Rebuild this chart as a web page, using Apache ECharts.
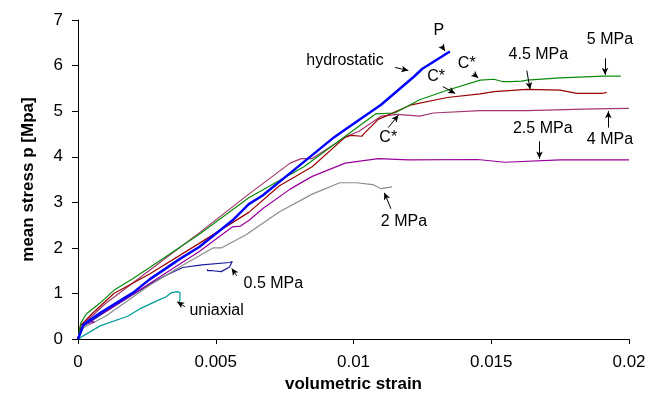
<!DOCTYPE html>
<html>
<head>
<meta charset="utf-8">
<script src="https://cdn.jsdelivr.net/npm/echarts@6/dist/echarts.min.js"></script>
<style>
  html, body { margin: 0; padding: 0; background: #fff; }
  #EChart { width: 660px; height: 398px; }
</style>
</head>
<body>
<div id="EChart"></div>
<script>
// tick labels
const xTicks = ['0', '0.005', '0.01', '0.015', '0.02'];
const yTicks = ['0', '1', '2', '3', '4', '5', '6', '7'];

// curves: [volumetric strain, mean stress]
const uniaxial = [[0,0],[0.0008,0.29],[0.0018,0.5],[0.0023,0.68],[0.0029,0.85],[0.0032,0.93],[0.0034,1.02],[0.0036,1.04],[0.0037,1.02],[0.0037,0.86],[0.00365,0.79]];
const mpa05 = [[0,0],[0.0002,0.28],[0.001,0.6],[0.002,0.98],[0.0026,1.2],[0.0032,1.4],[0.0038,1.57],[0.0045,1.63],[0.0055,1.68],[0.0056,1.7],[0.0055,1.58],[0.0052,1.48],[0.0049,1.5],[0.0047,1.5],[0.0047,1.53]];
const mpa2 = [[0,0],[0.0002,0.25],[0.001,0.5],[0.0026,1.18],[0.0038,1.62],[0.0049,2.0],[0.0052,2.0],[0.0061,2.29],[0.0073,2.79],[0.0085,3.18],[0.0095,3.43],[0.0101,3.43],[0.0107,3.39],[0.011,3.3],[0.0114,3.34]];
const mpa25 = [[0,0],[0.0001,0.32],[0.0006,0.37],[0.0004,0.42],[0.001,0.6],[0.0026,1.22],[0.0044,1.92],[0.0056,2.46],[0.0059,2.48],[0.0062,2.6],[0.0067,2.86],[0.0077,3.29],[0.0085,3.57],[0.0097,3.86],[0.0109,3.96],[0.012,3.93],[0.0145,3.94],[0.0155,3.88],[0.0175,3.93],[0.02,3.93]];
const mpa4 = [[0,0],[0.0001,0.3],[0.0005,0.5],[0.001,0.78],[0.0026,1.51],[0.0044,2.33],[0.0062,3.18],[0.0077,3.86],[0.0081,3.96],[0.0085,3.96],[0.0097,4.43],[0.0102,4.56],[0.011,4.89],[0.0116,4.93],[0.0124,4.89],[0.0129,4.96],[0.0146,5.01],[0.0163,5.01],[0.0187,5.05],[0.02,5.06]];
const mpa45 = [[0,0],[0.0001,0.3],[0.0005,0.55],[0.0013,1.0],[0.0026,1.43],[0.0044,2.1],[0.0062,2.78],[0.0073,3.36],[0.0085,3.78],[0.0097,4.43],[0.0099,4.47],[0.0103,4.45],[0.0104,4.52],[0.0109,4.82],[0.0121,5.14],[0.0134,5.3],[0.0146,5.38],[0.0151,5.43],[0.0163,5.48],[0.0175,5.46],[0.0181,5.39],[0.019,5.39],[0.0192,5.41]];
const mpa5 = [[0,0],[0.0001,0.35],[0.0003,0.55],[0.0008,0.79],[0.0013,1.07],[0.002,1.33],[0.0026,1.57],[0.0044,2.3],[0.0062,3.1],[0.0082,3.78],[0.0097,4.45],[0.0108,4.94],[0.0115,4.96],[0.0124,5.25],[0.0134,5.46],[0.0146,5.68],[0.0151,5.7],[0.0154,5.65],[0.0157,5.65],[0.0161,5.66],[0.0163,5.68],[0.0175,5.73],[0.0191,5.77],[0.0197,5.77]];
const hydrostatic = [[0,0],[0.0002,0.32],[0.0008,0.57],[0.002,1.02],[0.0026,1.31],[0.0037,1.76],[0.0044,2.02],[0.0056,2.6],[0.0062,2.96],[0.0067,3.15],[0.0079,3.74],[0.0093,4.43],[0.0097,4.6],[0.011,5.14],[0.0122,5.76],[0.0125,5.93],[0.0135,6.31]];

// annotation texts [x, y, text]
const notes = [
  [0.0131, 6.76, 'P'],
  [0.00969, 6.12, 'hydrostatic'],
  [0.01411, 6.04, 'C*'],
  [0.013, 5.75, 'C*'],
  [0.01126, 4.43, 'C*'],
  [0.01671, 6.25, '4.5 MPa'],
  [0.01931, 6.57, '5 MPa'],
  [0.01931, 4.37, '4 MPa'],
  [0.01687, 4.61, '2.5 MPa'],
  [0.01183, 2.58, '2 MPa'],
  [0.00709, 1.21, '0.5 MPa'],
  [0.00503, 0.63, 'uniaxial']
];
// arrows [x1, y1, x2, y2]
const arrows = [
  [0.0132, 6.43, 0.01332, 6.32],
  [0.01151, 5.96, 0.01199, 5.89],
  [0.01435, 5.82, 0.01453, 5.73],
  [0.01324, 5.54, 0.01369, 5.39],
  [0.01126, 4.64, 0.01163, 4.91],
  [0.01629, 5.89, 0.01641, 5.48],
  [0.01913, 6.16, 0.01913, 5.8],
  [0.01925, 4.64, 0.01925, 5.0],
  [0.01675, 4.34, 0.01675, 3.96],
  [0.01136, 2.86, 0.01112, 3.21],
  [0.00576, 1.39, 0.00558, 1.55],
  [0.00388, 0.71, 0.0036, 0.82]
];

const font = '"Liberation Sans", Arial, sans-serif';

function curve(data, color, width) {
  return {
    type: 'line',
    data: data,
    showSymbol: false,
    symbol: 'none',
    smooth: false,
    lineStyle: { color: color, width: width || 1.2 },
    z: 2
  };
}

let EChart = echarts.init(document.getElementById('EChart'));
let config = {
  animation: false,
  grid: { left: 78, right: 31, top: 20, bottom: 52 },
  xAxis: {
    type: 'value',
    min: 0, max: 0.02, interval: 0.005,
    name: 'volumetric strain',
    nameLocation: 'middle',
    nameGap: 36,
    nameTextStyle: { color: '#000', fontSize: 17, fontWeight: 'bold', fontFamily: font },
    splitLine: { show: false },
    axisLine: { lineStyle: { color: '#000', width: 1 } },
    axisTick: { inside: false, length: 5, lineStyle: { color: '#000' } },
    axisLabel: {
      color: '#000', fontSize: 17, fontFamily: font, margin: 15,
      formatter: function (v) { return xTicks[Math.round(v / 0.005)]; }
    }
  },
  yAxis: {
    type: 'value',
    min: 0, max: 7, interval: 1,
    name: 'mean stress p [Mpa]',
    nameLocation: 'middle',
    nameGap: 41,
    nameTextStyle: { color: '#000', fontSize: 17, fontWeight: 'bold', fontFamily: font },
    splitLine: { show: false },
    axisLine: { show: true, lineStyle: { color: '#000', width: 1 } },
    axisTick: { show: true, inside: false, length: 6, lineStyle: { color: '#000' } },
    axisLabel: {
      color: '#000', fontSize: 17, fontFamily: font, margin: 15,
      formatter: function (v) { return yTicks[Math.round(v)]; }
    }
  },
  series: [
    curve(uniaxial, '#009999'),
    curve(mpa05, '#1c1c9c'),
    curve(mpa2, '#8c8c8c'),
    curve(mpa25, '#990099'),
    curve(mpa4, '#a3366e'),
    curve(mpa45, '#990000'),
    curve(mpa5, '#0a8a0a'),
    curve(hydrostatic, '#0000ff', 2.5),
    {
      type: 'scatter',
      data: notes.map(n => ({ value: [n[0], n[1]], name: n[2] })),
      symbolSize: 0,
      itemStyle: { opacity: 1 },
      label: {
        show: true,
        position: 'inside',
        formatter: p => p.name,
        color: '#000',
        opacity: 1,
        textBorderWidth: 0,
        fontSize: 16,
        fontFamily: font
      },
      markLine: {
        silent: true,
        symbol: ['none', 'arrow'],
        symbolSize: [5, 7],
        lineStyle: { color: '#000', width: 1, type: 'solid', opacity: 1 },
        label: { show: false },
        emphasis: { disabled: true },
        data: arrows.map(a => [{ coord: [a[0], a[1]] }, { coord: [a[2], a[3]] }])
      },
      z: 5
    }
  ]
};
EChart.setOption(config);
</script>
</body>
</html>
